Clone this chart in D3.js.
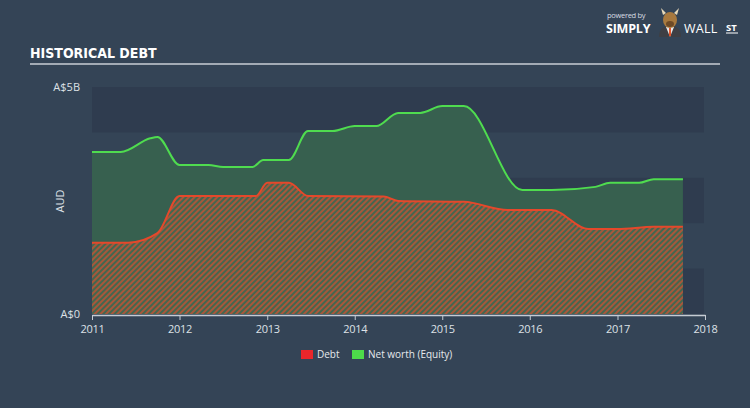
<!DOCTYPE html>
<html><head><meta charset="utf-8">
<script src="https://cdn.jsdelivr.net/npm/d3@7"></script>
<style>
html,body{margin:0;padding:0;background:#344456;}
svg{display:block;}
</style></head>
<body>
<script>
const equityDates = ["2011-01-01","2011-05-01","2011-09-01","2011-10-01","2012-01-01","2012-05-01","2012-07-01","2012-11-01","2012-12-15","2013-04-01","2013-06-20","2013-10-01","2014-01-01","2014-04-01","2014-07-01","2014-10-01","2015-01-01","2015-04-01","2015-12-01","2016-04-01","2016-10-01","2016-12-01","2017-04-01","2017-06-01","2017-10-01"];
const equityValues = [3.57,3.57,3.87,3.90,3.28,3.28,3.24,3.24,3.39,3.39,4.03,4.03,4.14,4.14,4.43,4.43,4.58,4.58,2.73,2.73,2.80,2.89,2.89,2.97,2.97];
const debtDates = ["2011-01-01","2011-06-01","2011-10-01","2012-01-01","2012-11-15","2013-01-01","2013-04-01","2013-06-20","2014-05-01","2014-07-01","2015-04-01","2015-10-01","2016-04-01","2016-09-01","2017-01-01","2017-06-01","2017-10-01"];
const debtValues = [1.57,1.57,1.78,2.60,2.60,2.89,2.89,2.60,2.59,2.49,2.47,2.29,2.29,1.87,1.87,1.92,1.92];
const yTickLabels = ["A$0","A$5B"];
const xTickYears = [2011,2012,2013,2014,2015,2016,2017,2018];
const legendLabels = ["Debt","Net worth (Equity)"];

const W=750,H=408;
const svg=d3.select("body").append("svg").attr("width",W).attr("height",H);
svg.append("rect").attr("width",W).attr("height",H).attr("fill","#344456");

const parse=d3.timeParse("%Y-%m-%d");
const equity=equityDates.map((d,i)=>({d:parse(d),v:equityValues[i]}));
const debt=debtDates.map((d,i)=>({d:parse(d),v:debtValues[i]}));

const x=d3.scaleTime().domain([new Date(2011,0,1),new Date(2018,0,1)]).range([92,705]);
const y=d3.scaleLinear().domain([0,5]).range([314,87]);

// bands
[[4,5],[2,3],[0,1]].forEach(b=>{
  svg.append("rect").attr("x",92).attr("width",612).attr("y",y(b[1])).attr("height",y(b[0])-y(b[1])).attr("fill","#2f3c4f");
});

// pattern
const defs=svg.append("defs");
const pat=defs.append("pattern").attr("id","hatch").attr("patternUnits","userSpaceOnUse").attr("width",4).attr("height",4).attr("patternTransform","rotate(45)");
pat.append("rect").attr("width",4).attr("height",4).attr("fill","#43674f");
pat.append("rect").attr("width",2).attr("height",4).attr("fill","#a8573b");

const area=d3.area().x(d=>x(d.d)).y0(y(0)).y1(d=>y(d.v)).curve(d3.curveMonotoneX);
const line=d3.line().x(d=>x(d.d)).y(d=>y(d.v)).curve(d3.curveMonotoneX);

svg.append("path").datum(equity).attr("d",area).attr("fill","#37604f");
svg.append("path").datum(debt).attr("d",area).attr("fill","url(#hatch)");
svg.append("path").datum(equity).attr("d",line).attr("fill","none").attr("stroke","#4fdc4f").attr("stroke-width",2);
svg.append("path").datum(debt).attr("d",line).attr("fill","none").attr("stroke","#e5482b").attr("stroke-width",2);

// x axis
const xAxis=d3.axisBottom(x).tickValues(xTickYears.map(yv=>new Date(yv,0,1))).tickFormat(d3.timeFormat("%Y")).tickSize(5).tickSizeOuter(0);
const gx=svg.append("g").attr("transform","translate(0,315)").call(xAxis);
gx.select(".domain").attr("stroke","#c5cbd3").attr("stroke-width",1.5);
gx.selectAll(".tick line").attr("stroke","#c5cbd3");
gx.selectAll(".tick text").attr("fill","#dde1e6").attr("font-family","'Open Sans',sans-serif").attr("font-size",11).attr("dy","0.9em").attr("letter-spacing","-0.3");

// y labels
const txt="#dde1e6";
svg.append("text").attr("x",80).attr("y",y(5)+4).attr("text-anchor","end").attr("fill",txt).attr("font-family","'Open Sans',sans-serif").attr("font-size",11).text(yTickLabels[1]);
svg.append("text").attr("x",80).attr("y",y(0)+4).attr("text-anchor","end").attr("fill",txt).attr("font-family","'Open Sans',sans-serif").attr("font-size",11).text(yTickLabels[0]);
svg.append("text").attr("transform","translate(64,201) rotate(-90)").attr("text-anchor","middle").attr("fill",txt).attr("font-family","'Open Sans',sans-serif").attr("font-size",11).text("AUD");

// title
svg.append("text").attr("x",30).attr("y",58).attr("fill","#ffffff").attr("font-family","'Liberation Sans Narrow','DejaVu Sans Condensed',sans-serif").attr("font-weight","bold").attr("font-size",14).text("HISTORICAL DEBT");
svg.append("line").attr("x1",30).attr("x2",720).attr("y1",64).attr("y2",64).attr("stroke","#c8ced6").attr("stroke-width",1.5);

// logo
svg.append("text").attr("x",607).attr("y",18).attr("fill","#d8dde3").attr("font-family","'Open Sans',sans-serif").attr("font-size",7.5).attr("letter-spacing","-0.3").text("powered by");
svg.append("text").attr("x",606).attr("y",33).attr("fill","#ffffff").attr("font-family","'Open Sans',sans-serif").attr("font-weight","bold").attr("font-size",12.5).attr("letter-spacing","-0.2").text("SIMPLY");
svg.append("text").attr("x",684).attr("y",33).attr("fill","#ffffff").attr("font-family","'Open Sans',sans-serif").attr("font-size",12.5).attr("letter-spacing","0.3").text("WALL");
svg.append("text").attr("x",726).attr("y",31).attr("fill","#ffffff").attr("font-family","'Open Sans',sans-serif").attr("font-weight","bold").attr("font-size",9.5).text("ST");
svg.append("line").attr("x1",726).attr("x2",738).attr("y1",33).attr("y2",33).attr("stroke","#fff").attr("stroke-width",1);
const logo=svg.append("g");
logo.append("path").attr("d","M659,37 Q659,26 670,26 Q681,26 681,37 Z").attr("fill","#3e3f44");
logo.append("path").attr("d","M666,27 L670,37 L674,27 Z").attr("fill","#e8e8e8");
logo.append("rect").attr("x",669).attr("y",28).attr("width",2).attr("height",8).attr("fill","#e3542a");
logo.append("ellipse").attr("cx",670).attr("cy",20).attr("rx",7).attr("ry",8).attr("fill","#a8793e");
logo.append("ellipse").attr("cx",670).attr("cy",24).attr("rx",4).attr("ry",3).attr("fill","#6e4a26");
logo.append("path").attr("d","M663,15 L661,8 L666,13 Z M677,15 L679,8 L674,13 Z").attr("fill","#e8d9b8");

// legend
const lg=svg.append("g").attr("font-family","'Open Sans',sans-serif").attr("font-size",10).attr("fill","#e6e9ed");
lg.append("rect").attr("x",301).attr("y",350).attr("width",12).attr("height",9).attr("fill","#e8262b");
lg.append("text").attr("x",317).attr("y",358).text(legendLabels[0]);
lg.append("rect").attr("x",352).attr("y",350).attr("width",12).attr("height",9).attr("fill","#4ddc4a");
lg.append("text").attr("x",368).attr("y",358).text(legendLabels[1]);
</script>
</body></html>
